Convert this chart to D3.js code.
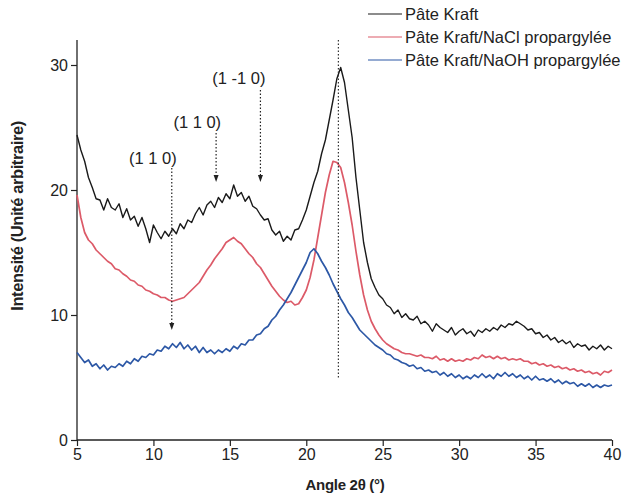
<!DOCTYPE html>
<html><head><meta charset="utf-8">
<script src="https://cdn.jsdelivr.net/npm/d3@7"></script>
<style>body{margin:0;background:#fff}svg{display:block}text{font-family:"Liberation Sans",Arial,sans-serif}</style>
</head><body>
<script>
const angles = [5,5.25,5.5,5.75,6,6.25,6.5,6.75,7,7.25,7.5,7.75,8,8.25,8.5,8.75,9,9.25,9.5,9.75,10,10.25,10.5,10.75,11,11.25,11.5,11.75,12,12.25,12.5,12.75,13,13.25,13.5,13.75,14,14.25,14.5,14.75,15,15.25,15.5,15.75,16,16.25,16.5,16.75,17,17.25,17.5,17.75,18,18.25,18.5,18.75,19,19.25,19.5,19.75,20,20.25,20.5,20.75,21,21.25,21.5,21.75,22,22.25,22.5,22.75,23,23.25,23.5,23.75,24,24.25,24.5,24.75,25,25.25,25.5,25.75,26,26.25,26.5,26.75,27,27.25,27.5,27.75,28,28.25,28.5,28.75,29,29.25,29.5,29.75,30,30.25,30.5,30.75,31,31.25,31.5,31.75,32,32.25,32.5,32.75,33,33.25,33.5,33.75,34,34.25,34.5,34.75,35,35.25,35.5,35.75,36,36.25,36.5,36.75,37,37.25,37.5,37.75,38,38.25,38.5,38.75,39,39.25,39.5,39.75,40];

const kraft = [24.4,23.2,22.3,21.0,20.2,19.3,
19.2,18.4,19.3,18.6,18.4,18.9,17.8,18.5,17.6,17.9,17.1,17.8,16.9,15.8,17.2,16.6,16.1,16.7,16.3,16.9,16.5,17.3,16.9,17.6,17.4,18.1,18.6,18.0,18.8,19.1,18.6,19.4,19.0,19.7,19.3,20.4,19.5,19.8,19.1,19.5,18.7,18.5,18.0,17.6,17.7,16.8,16.4,16.7,15.9,16.3,16.0,16.8,16.9,17.6,18.4,
19.5,20.6,21.5,22.9,24.0,25.6,27.2,28.9,29.8,28.6,26.4,24.2,21.0,18.4,15.8,14.2,12.9,12.2,11.6,
11.3,10.8,10.6,10.1,10.4,9.8,10.1,9.7,9.6,9.9,9.3,9.5,9.2,8.7,9.3,9.0,8.8,8.6,9.0,8.4,8.7,8.9,8.5,8.7,8.3,8.8,8.6,8.9,8.7,9.0,8.8,9.2,9.0,9.3,9.2,9.5,9.3,9.1,8.8,8.9,8.5,8.6,8.2,8.4,8.0,8.2,7.8,8.0,7.7,7.9,7.4,7.7,7.5,7.6,7.2,7.5,7.3,7.6,7.2,7.5,7.3];

const nacl = [19.6,17.8,16.6,16.0,15.7,15.2,14.9,14.6,14.3,14.1,13.7,13.6,13.3,13.1,12.8,12.7,12.4,12.3,12.0,11.9,11.7,11.6,11.4,11.4,11.2,11.1,11.2,11.3,11.4,11.7,12.0,12.3,12.6,13.1,13.6,14.0,14.5,14.9,15.3,15.8,16.0,16.2,15.9,15.7,15.3,14.9,14.6,14.1,13.8,13.3,12.8,12.3,11.9,11.5,11.2,11.0,11.1,10.8,10.9,11.4,12.0,13.0,14.4,16.2,18.0,19.8,21.2,22.3,22.2,21.8,20.6,19.0,17.2,15.1,13.2,11.6,10.4,9.5,8.9,8.4,8.0,7.7,7.5,7.3,7.2,7.0,6.9,6.9,6.8,6.7,6.8,6.6,6.6,6.5,6.7,6.4,6.5,6.3,6.5,6.3,6.4,6.3,6.5,6.4,6.6,6.5,6.8,6.6,6.7,6.5,6.7,6.5,6.6,6.4,6.5,6.4,6.5,6.3,6.3,6.1,6.2,6.0,6.1,5.9,6.0,5.8,5.9,5.7,5.8,5.6,5.7,5.5,5.6,5.4,5.5,5.3,5.4,5.2,5.5,5.4,5.6];

const naoh = [7.0,6.6,6.2,6.4,5.9,6.1,5.7,6.0,5.6,5.9,5.8,6.1,5.9,6.3,6.1,6.5,6.3,6.7,6.6,6.9,6.8,7.2,7.1,7.5,7.3,7.7,7.4,7.8,7.3,7.6,7.2,7.5,7.0,7.4,7.0,7.2,6.9,7.2,7.0,7.3,7.1,7.5,7.3,7.7,7.6,8.0,8.0,8.4,8.5,8.9,9.1,9.6,9.9,10.4,10.8,11.3,11.8,12.4,13.0,13.6,14.2,15.0,15.3,14.9,14.3,13.8,13.2,12.5,11.9,11.3,10.8,10.2,9.8,9.3,8.8,8.5,8.2,7.9,7.6,7.4,7.2,6.9,6.8,6.5,6.4,6.2,6.1,5.9,6.0,5.7,5.8,5.5,5.6,5.4,5.5,5.2,5.4,5.1,5.3,5.0,5.2,4.9,5.1,4.9,5.2,5.0,5.3,5.0,5.2,4.9,5.3,5.1,5.4,5.1,5.3,5.0,5.2,4.9,5.1,4.8,5.1,4.8,4.9,4.7,4.9,4.6,4.8,4.5,4.7,4.5,4.6,4.3,4.5,4.3,4.5,4.2,4.4,4.2,4.4,4.3,4.4];

const seriesNames = ["Pâte Kraft","Pâte Kraft/NaCl propargylée","Pâte Kraft/NaOH propargylée"];
const seriesColors = ["#1a1a1a","#dc5a68","#2d58a6"];
const xTicks = [5,10,15,20,25,30,35,40];
const yTicks = [0,10,20,30];
const annoLabels = ["(1 1 0)","(1 1 0)","(1 -1 0)"];
const annoAngles = [11.2,14.1,17.0];
const peakAngle = 22.1;

const W=634,H=496;
const svg=d3.select("body").append("svg").attr("width",W).attr("height",H);
const x=d3.scaleLinear().domain([5,40]).range([77,612]);
const y=d3.scaleLinear().domain([0,32]).range([440,40]);

const yAxis=svg.append("g").attr("transform","translate(77,0)")
  .call(d3.axisLeft(y).tickValues(yTicks).tickSize(6).tickPadding(3));
const xAxis=svg.append("g").attr("transform","translate(0,440)")
  .call(d3.axisBottom(x).tickValues(xTicks).tickSize(6).tickPadding(3));
[yAxis,xAxis].forEach(a=>{
  a.select(".domain").attr("stroke","#222").attr("stroke-width",1.3);
  a.selectAll(".tick line").attr("stroke","#222").attr("stroke-width",1.2);
  a.selectAll("text").attr("font-size",16).attr("fill","#222").attr("font-family","Liberation Sans, Arial, sans-serif");
});
yAxis.select(".domain").attr("d","M0,440V40");
xAxis.select(".domain").attr("d","M77,0H612");

const all=[kraft,nacl,naoh];
const line=d3.line().x((d,i)=>x(angles[i])).y(d=>y(d));
all.forEach((s,k)=>{
  svg.append("path").datum(s).attr("d",line).attr("fill","none")
    .attr("stroke",seriesColors[k]).attr("stroke-width",k===0?1.4:1.7)
    .attr("stroke-linejoin","round");
});

svg.append("line").attr("x1",x(peakAngle)).attr("x2",x(peakAngle))
  .attr("y1",40).attr("y2",378).attr("stroke","#333").attr("stroke-width",1.2)
  .attr("stroke-dasharray","1.5,2");

const annoTop=[168,133,90], annoBottom=[330,182,182], annoTextY=[164,128,84];
annoAngles.forEach((a,i)=>{
  const px=x(a);
  svg.append("line").attr("x1",px).attr("x2",px).attr("y1",annoTop[i]).attr("y2",annoBottom[i]-5)
    .attr("stroke","#222").attr("stroke-width",1.2).attr("stroke-dasharray","1.5,2");
  svg.append("path").attr("d",`M${px-2.5},${annoBottom[i]-7}L${px+2.5},${annoBottom[i]-7}L${px},${annoBottom[i]}Z`).attr("fill","#222");
  svg.append("text").attr("x",px+5).attr("y",annoTextY[i]).attr("text-anchor","end")
    .attr("font-size",16.5).attr("fill","#222").text(annoLabels[i]);
});

svg.append("text").attr("x",345).attr("y",490).attr("text-anchor","middle")
  .attr("font-size",15).attr("font-weight","bold").attr("letter-spacing","-0.3")
  .attr("fill","#222").text("Angle 2θ (°)");
svg.append("text").attr("transform","translate(23,216) rotate(-90)").attr("text-anchor","middle")
  .attr("font-size",16.5).attr("font-weight","bold").attr("letter-spacing","-0.4")
  .attr("fill","#222").text("Intensité (Unité arbitraire)");

const legY=[14,37,60];
seriesNames.forEach((n,i)=>{
  svg.append("line").attr("x1",368).attr("x2",402).attr("y1",legY[i]).attr("y2",legY[i])
    .attr("stroke",seriesColors[i]).attr("stroke-width",1.2);
  svg.append("text").attr("x",405).attr("y",legY[i]+5.5).attr("font-size",16.5).attr("fill","#222").text(n);
});
</script>
</body></html>
